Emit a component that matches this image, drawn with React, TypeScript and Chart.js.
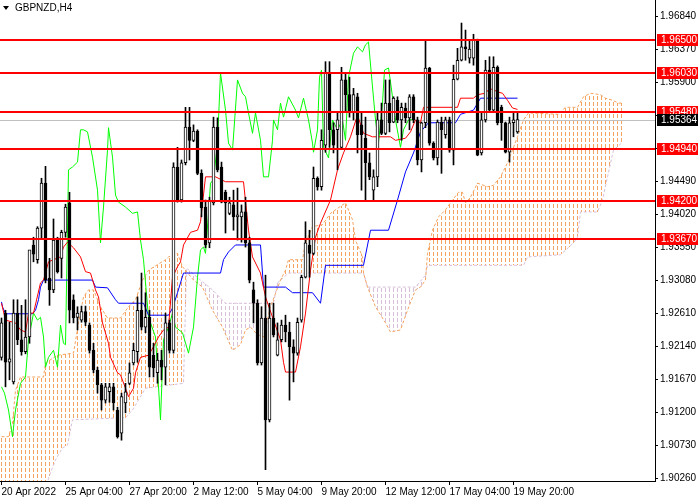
import React, { useEffect, useRef } from 'react';
import { Chart, registerables } from 'chart.js';

Chart.register(...registerables);

const symbolTitle = 'GBPNZD,H4';
const xTickIndex = [0, 16, 32, 48, 64, 80, 96, 112, 128];
const xTickLabels = ['20 Apr 2022', '25 Apr 04:00', '27 Apr 20:00', '2 May 12:00', '5 May 04:00', '9 May 20:00', '12 May 12:00', '17 May 04:00', '19 May 20:00'];
const yTicks = [1.9684, 1.9637, 1.959, 1.9543, 1.9496, 1.9449, 1.9402, 1.9355, 1.9308, 1.9261, 1.9214, 1.9167, 1.912, 1.9073, 1.9026];
const levels = [1.965, 1.9603, 1.9548, 1.9494, 1.942, 1.9367];
const lastPrice = 1.95364;

const opens = [
  1.9198, 1.9261, 1.9191, 1.9163, 1.9261, 1.9223, 1.9206, 1.9227, 1.9358, 1.9337,
  1.9382, 1.9446, 1.9311, 1.9294, 1.9365, 1.9339, 1.9376, 1.9418, 1.9280, 1.9255,
  1.9251, 1.9263, 1.9244, 1.9208, 1.9180, 1.9159, 1.9137, 1.9149, 1.9156, 1.9123,
  1.9090, 1.9133, 1.9161, 1.9190, 1.9206, 1.9265, 1.9241, 1.9255, 1.9201, 1.9176,
  1.9194, 1.9184, 1.9247, 1.9208, 1.9469, 1.9422, 1.9475, 1.9526, 1.9507, 1.9520,
  1.9460, 1.9412, 1.9361, 1.9418, 1.9526, 1.9469, 1.9433, 1.9403, 1.9415, 1.9398,
  1.9398, 1.9405, 1.9361, 1.9294, 1.9275, 1.9190, 1.9254, 1.9109, 1.9254, 1.9201,
  1.9223, 1.9244, 1.9234, 1.9213, 1.9204, 1.9251, 1.9312, 1.9358, 1.9346, 1.9453,
  1.9441, 1.9500, 1.9603, 1.9522, 1.9522, 1.9497, 1.9593, 1.9572, 1.9547, 1.9569,
  1.9529, 1.9510, 1.9475, 1.9436, 1.9455, 1.9536, 1.9517, 1.9560, 1.9533, 1.9564,
  1.9536, 1.9553, 1.9539, 1.9569, 1.9536, 1.9479, 1.9532, 1.9610, 1.9503, 1.9482,
  1.9533, 1.9515, 1.9536, 1.9493, 1.9594, 1.9621, 1.9640, 1.9624, 1.9624, 1.9650,
  1.9489, 1.9536, 1.9607, 1.9550, 1.9611, 1.9554, 1.9532, 1.9490, 1.9532, 1.9519,
];
const highs = [
  1.9254, 1.9265, 1.9248, 1.9280, 1.9280, 1.9272, 1.9280, 1.9344, 1.9369, 1.9384,
  1.9453, 1.9470, 1.9339, 1.9395, 1.9369, 1.9379, 1.9416, 1.9433, 1.9287, 1.9270,
  1.9271, 1.9271, 1.9247, 1.9218, 1.9184, 1.9161, 1.9161, 1.9161, 1.9161, 1.9127,
  1.9147, 1.9161, 1.9190, 1.9218, 1.9284, 1.9318, 1.9290, 1.9265, 1.9218, 1.9204,
  1.9208, 1.9261, 1.9251, 1.9475, 1.9497, 1.9479, 1.9554, 1.9554, 1.9529, 1.9522,
  1.9465, 1.9422, 1.9426, 1.9540, 1.9539, 1.9476, 1.9436, 1.9426, 1.9436, 1.9439,
  1.9415, 1.9426, 1.9369, 1.9305, 1.9280, 1.9270, 1.9315, 1.9275, 1.9275, 1.9247,
  1.9251, 1.9258, 1.9248, 1.9223, 1.9254, 1.9315, 1.9391, 1.9379, 1.9469, 1.9455,
  1.9522, 1.9619, 1.9619, 1.9532, 1.9546, 1.9611, 1.9603, 1.9597, 1.9581, 1.9574,
  1.9546, 1.9540, 1.9489, 1.9465, 1.9546, 1.9560, 1.9593, 1.9593, 1.9569, 1.9569,
  1.9560, 1.9560, 1.9572, 1.9572, 1.9540, 1.9533, 1.9650, 1.9611, 1.9505, 1.9536,
  1.9540, 1.9540, 1.9540, 1.9614, 1.9638, 1.9674, 1.9664, 1.9650, 1.9658, 1.9651,
  1.9546, 1.9621, 1.9626, 1.9626, 1.9613, 1.9557, 1.9533, 1.9540, 1.9547, 1.9546,
];
const lows = [
  1.9194, 1.9156, 1.9166, 1.9160, 1.9216, 1.9201, 1.9203, 1.9218, 1.9334, 1.9332,
  1.9368, 1.9304, 1.9272, 1.9290, 1.9318, 1.9311, 1.9369, 1.9247, 1.9247, 1.9237,
  1.9248, 1.9243, 1.9204, 1.9176, 1.9147, 1.9123, 1.9133, 1.9134, 1.9123, 1.9083,
  1.9080, 1.9119, 1.9159, 1.9187, 1.9191, 1.9237, 1.9233, 1.9170, 1.9170, 1.9161,
  1.9166, 1.9159, 1.9204, 1.9204, 1.9419, 1.9419, 1.9472, 1.9479, 1.9505, 1.9458,
  1.9398, 1.9354, 1.9354, 1.9415, 1.9462, 1.9418, 1.9375, 1.9401, 1.9379, 1.9365,
  1.9362, 1.9355, 1.9304, 1.9247, 1.9187, 1.9187, 1.9038, 1.9106, 1.9227, 1.9200,
  1.9220, 1.9220, 1.9137, 1.9163, 1.9201, 1.9248, 1.9311, 1.9312, 1.9344, 1.9436,
  1.9436, 1.9490, 1.9497, 1.9489, 1.9465, 1.9496, 1.9547, 1.9540, 1.9536, 1.9489,
  1.9436, 1.9422, 1.9451, 1.9422, 1.9441, 1.9515, 1.9515, 1.9519, 1.9532, 1.9532,
  1.9507, 1.9532, 1.9522, 1.9532, 1.9472, 1.9462, 1.9525, 1.9500, 1.9479, 1.9472,
  1.9460, 1.9510, 1.9490, 1.9472, 1.9593, 1.9620, 1.9621, 1.9617, 1.9614, 1.9485,
  1.9486, 1.9533, 1.9547, 1.9547, 1.9529, 1.9507, 1.9489, 1.9476, 1.9512, 1.9517,
];
const closes = [
  1.9247, 1.9191, 1.9196, 1.9261, 1.9223, 1.9206, 1.9227, 1.9351, 1.9345, 1.9382,
  1.9446, 1.9308, 1.9294, 1.9365, 1.9320, 1.9376, 1.9412, 1.9265, 1.9254, 1.9261,
  1.9263, 1.9248, 1.9208, 1.9180, 1.9159, 1.9137, 1.9156, 1.9156, 1.9133, 1.9085,
  1.9142, 1.9149, 1.9176, 1.9208, 1.9265, 1.9241, 1.9255, 1.9184, 1.9183, 1.9194,
  1.9184, 1.9247, 1.9208, 1.9469, 1.9422, 1.9475, 1.9526, 1.9507, 1.9520, 1.9460,
  1.9411, 1.9358, 1.9422, 1.9526, 1.9465, 1.9419, 1.9418, 1.9418, 1.9398, 1.9401,
  1.9405, 1.9361, 1.9308, 1.9275, 1.9190, 1.9254, 1.9109, 1.9254, 1.9230, 1.9223,
  1.9244, 1.9234, 1.9213, 1.9204, 1.9248, 1.9312, 1.9361, 1.9346, 1.9453, 1.9441,
  1.9507, 1.9603, 1.9522, 1.9500, 1.9536, 1.9593, 1.9572, 1.9547, 1.9572, 1.9515,
  1.9515, 1.9475, 1.9455, 1.9455, 1.9536, 1.9517, 1.9560, 1.9532, 1.9567, 1.9536,
  1.9554, 1.9539, 1.9569, 1.9536, 1.9479, 1.9532, 1.9610, 1.9503, 1.9482, 1.9533,
  1.9522, 1.9536, 1.9493, 1.9594, 1.9621, 1.9640, 1.9637, 1.9637, 1.9650, 1.9486,
  1.9536, 1.9607, 1.9550, 1.9611, 1.9532, 1.9532, 1.9490, 1.9532, 1.9536, 1.95364,
];

// Tenkan-sen (red) vertices: bar number / price
const tenkanBar = [0, 1, 3.5, 4.75, 6, 6.75, 8, 9.75, 10.5, 11.75, 13, 14.75, 15.5, 16.5, 18, 19.75, 21, 22.25, 23.5, 24.25, 25.25, 26.75, 27.25, 29, 29.75, 31, 31.75, 33, 33.5, 34.75, 36.75, 38, 39.25, 40.5, 41.75, 42.75, 44, 44.75, 45.5, 47.25, 49, 49.75, 51, 53.5, 56, 60.5, 61.75, 62.75, 64.75, 66, 68, 69.75, 70.5, 71, 73.5, 74.75, 76, 77.25, 78.5, 79.75, 82.25, 84, 85.5, 87.25, 89, 90.5, 92.75, 97.25, 98.5, 101, 102.25, 103.5, 104.75, 105.5, 114, 114.75, 118, 119, 121, 121.75, 122.75, 124, 125.25, 126.5, 127.75, 129];
const tenkanVal = [1.9275, 1.9251, 1.9247, 1.9237, 1.9234, 1.9261, 1.9261, 1.9304, 1.9308, 1.9334, 1.9337, 1.9341, 1.9355, 1.9362, 1.9354, 1.9341, 1.9320, 1.9318, 1.9294, 1.9284, 1.9247, 1.9218, 1.9198, 1.9176, 1.9173, 1.9154, 1.9142, 1.9154, 1.9176, 1.9198, 1.9201, 1.9213, 1.9227, 1.9237, 1.9241, 1.9312, 1.9327, 1.9334, 1.9358, 1.9376, 1.9379, 1.9391, 1.9455, 1.9455, 1.9448, 1.9448, 1.9379, 1.9341, 1.9318, 1.9284, 1.9251, 1.9223, 1.9191, 1.9177, 1.9177, 1.9213, 1.9261, 1.9322, 1.9369, 1.9389, 1.9422, 1.9465, 1.9489, 1.9512, 1.9543, 1.9517, 1.9512, 1.9512, 1.9507, 1.9510, 1.9519, 1.9536, 1.9532, 1.9554, 1.9554, 1.9567, 1.9567, 1.9572, 1.9574, 1.9579, 1.9580, 1.9576, 1.9574, 1.9564, 1.9553, 1.9551];

// Kijun-sen (blue)
const kijunBar = [0, 0.25, 1, 7.75, 8.5, 9.25, 9.75, 10.5, 22.75, 23.5, 26.5, 28.5, 29.25, 35.5, 36.75, 41.75, 42.75, 44, 45.5, 54.75, 55.5, 56.75, 58.5, 64.75, 65.5, 71, 72.75, 77.75, 79.75, 81, 90.5, 92.25, 96.75, 99, 101, 103, 104.75, 106.75, 113.5, 114.75, 118, 119.75, 129];
const kijunVal = [1.9277, 1.9270, 1.9260, 1.9260, 1.9265, 1.9280, 1.9298, 1.9308, 1.9308, 1.9298, 1.9297, 1.9280, 1.9275, 1.9275, 1.9258, 1.9258, 1.9268, 1.9290, 1.9318, 1.9318, 1.9337, 1.9348, 1.9358, 1.9358, 1.9298, 1.9298, 1.9290, 1.9290, 1.9275, 1.9329, 1.9329, 1.9379, 1.9379, 1.9422, 1.9462, 1.9489, 1.9519, 1.9532, 1.9532, 1.9544, 1.9550, 1.9567, 1.9567];

// Chikou span (green)
const chikouBar = [0, 0.75, 1.75, 2.75, 3.5, 4.75, 6, 6.75, 8, 9, 9.75, 10.5, 11, 11.75, 13, 14, 14.75, 15.5, 16, 16.75, 17.75, 19, 19.75, 20.5, 21.5, 22.75, 24, 24.75, 25.5, 26.5, 26.75, 27.75, 28.5, 29.25, 31, 32.75, 34, 34.75, 35.5, 36.75, 38.5, 39.75, 40.5, 41.75, 42.75, 43.5, 45.25, 46.75, 48, 49, 49.75, 50.5, 51, 51.75, 52.25, 53, 54, 54.75, 56, 56.75, 57.75, 59, 60.25, 61, 61.75, 62.75, 63.5, 64.75, 65.5, 66.75, 67.75, 68, 69, 69.75, 70.5, 71.75, 73.5, 74.25, 75.5, 76.75, 77.75, 78, 79, 79.5, 80, 80.5, 81.75, 82.75, 84, 85.25, 86, 86.75, 88, 89, 90.25, 91, 91.75, 92.75, 93.5, 94.25, 95.25, 95.75, 96.75, 97.25, 98.5, 99.75, 100.5, 101.75, 103];
const chikouVal = [1.9156, 1.9147, 1.9123, 1.9085, 1.9123, 1.9161, 1.9170, 1.9223, 1.9261, 1.9251, 1.9255, 1.9227, 1.9184, 1.9198, 1.9208, 1.9184, 1.9244, 1.9218, 1.9216, 1.9465, 1.9469, 1.9476, 1.9522, 1.9522, 1.9519, 1.9483, 1.9436, 1.9361, 1.9412, 1.9493, 1.9525, 1.9483, 1.9429, 1.9419, 1.9412, 1.9403, 1.9405, 1.9365, 1.9337, 1.9255, 1.9227, 1.9109, 1.9223, 1.9241, 1.9261, 1.9241, 1.9233, 1.9204, 1.9241, 1.9312, 1.9351, 1.9355, 1.9346, 1.9403, 1.9446, 1.9451, 1.9503, 1.9603, 1.9550, 1.9503, 1.9493, 1.9593, 1.9574, 1.9569, 1.9546, 1.9517, 1.9546, 1.9507, 1.9455, 1.9455, 1.9507, 1.9536, 1.9522, 1.9560, 1.9540, 1.9569, 1.9550, 1.9539, 1.9567, 1.9536, 1.9503, 1.9490, 1.9522, 1.9597, 1.9607, 1.9497, 1.9482, 1.9536, 1.9522, 1.9536, 1.9507, 1.9597, 1.9631, 1.9640, 1.9633, 1.9643, 1.9647, 1.9583, 1.9536, 1.9503, 1.9560, 1.9607, 1.9610, 1.9590, 1.9536, 1.9497, 1.9522, 1.9536, 1.95364];

// Senkou span A (sandy brown edge)
const spanABar = [0, 1.75, 2.75, 3.5, 4.75, 10.5, 11, 14, 18, 19.25, 20.5, 21.75, 23, 24.75, 26.5, 29.75, 31.75, 33.5, 35.25, 36.75, 41, 41.75, 44, 45.25, 46, 48, 50.25, 52.75, 55.25, 57.75, 59.75, 61, 62.25, 64, 65.5, 67.25, 69.75, 71, 71.75, 75.25, 76, 77.75, 80.25, 82.25, 86, 87.75, 88.5, 90.25, 90.5, 91.5, 93.5, 96, 97.25, 99.75, 101.5, 103.5, 104.75, 106, 106.5, 107.75, 109.25, 111, 112.75, 114.25, 115.25, 116, 117.25, 119, 121.5, 123, 124.75, 126.5, 127.75, 129, 130.5, 131.75, 139.25, 140.25, 141, 144, 145.5, 147.25, 149.75, 151, 152.75, 154.25, 155];
const spanAVal = [1.9085, 1.9085, 1.9104, 1.9151, 1.9170, 1.9170, 1.9190, 1.9201, 1.9204, 1.9247, 1.9284, 1.9294, 1.9294, 1.9270, 1.9254, 1.9254, 1.9270, 1.9280, 1.9308, 1.9322, 1.9337, 1.9341, 1.9346, 1.9327, 1.9322, 1.9308, 1.9298, 1.9265, 1.9241, 1.9208, 1.9216, 1.9237, 1.9241, 1.9230, 1.9227, 1.9270, 1.9308, 1.9322, 1.9337, 1.9337, 1.9361, 1.9384, 1.9387, 1.9403, 1.9418, 1.9394, 1.9365, 1.9341, 1.9318, 1.9298, 1.9270, 1.9247, 1.9234, 1.9237, 1.9265, 1.9294, 1.9298, 1.9308, 1.9346, 1.9379, 1.9398, 1.9408, 1.9422, 1.9433, 1.9433, 1.9418, 1.9426, 1.9446, 1.9441, 1.9443, 1.9455, 1.9475, 1.9493, 1.9512, 1.9536, 1.9546, 1.9544, 1.9550, 1.9554, 1.9554, 1.9569, 1.9574, 1.9572, 1.9567, 1.9564, 1.9560, 1.9560];

// Senkou span B (thistle edge)
const spanBBar = [0, 9.75, 11.75, 13.5, 15.25, 16.5, 17.75, 31, 32.75, 36, 45.5, 46.25, 49.75, 52.75, 56, 68, 69, 71.75, 90.5, 91.5, 103.5, 106, 106.5, 130.5, 131.5, 139.75, 143, 144, 144.75, 149, 150.25, 151.5, 153, 155];
const spanBVal = [1.8966, 1.8966, 1.9026, 1.9052, 1.9069, 1.9073, 1.9109, 1.9112, 1.9123, 1.9154, 1.9161, 1.9325, 1.9308, 1.9294, 1.9275, 1.9275, 1.9304, 1.9318, 1.9318, 1.9298, 1.9298, 1.9315, 1.9329, 1.9329, 1.9341, 1.9344, 1.9361, 1.9369, 1.9405, 1.9405, 1.9422, 1.9455, 1.9493, 1.9503];

const FONT_FAMILY = '"Liberation Sans", Arial, sans-serif';
const Y_MIN = 1.90219;
const Y_MAX = 1.97068;
const CLOUD_UP = '#F4A460';
const CLOUD_DOWN = '#D8BFD8';
const SPAN_A_INDEX = 5;
const SPAN_B_INDEX = 6;

const toPts = (bars: number[], vals: number[]) => bars.map((b, i) => ({ x: b, y: vals[i] }));

// Hatches the Kumo between the two drawn span lines (uses the line points Chart.js placed)
const cloudPlugin = {
  id: 'kumoHatch',
  beforeDatasetsDraw(chart: any) {
    const { ctx, chartArea } = chart;
    const a = chart.getDatasetMeta(SPAN_A_INDEX).data.map((p: any) => ({ x: p.x, y: p.y }));
    const b = chart.getDatasetMeta(SPAN_B_INDEX).data.map((p: any) => ({ x: p.x, y: p.y }));
    if (!a.length || !b.length) return;
    const yAt = (pts: any[], x: number) => {
      if (x < pts[0].x || x > pts[pts.length - 1].x) return null;
      for (let k = 1; k < pts.length; k++) {
        if (x <= pts[k].x) {
          const p0 = pts[k - 1];
          const p1 = pts[k];
          const t = p1.x === p0.x ? 1 : (x - p0.x) / (p1.x - p0.x);
          return p0.y + t * (p1.y - p0.y);
        }
      }
      return null;
    };
    ctx.save();
    ctx.beginPath();
    ctx.rect(chartArea.left, chartArea.top, chartArea.right - chartArea.left, chartArea.bottom - chartArea.top);
    ctx.clip();
    for (let px = Math.floor(chartArea.left) + 1; px < chartArea.right; px += 4) {
      const ya = yAt(a, px + 0.5);
      const yb = yAt(b, px + 0.5);
      if (ya === null || yb === null) continue;
      const top = Math.min(ya, yb);
      const bot = Math.max(ya, yb);
      ctx.fillStyle = ya <= yb ? CLOUD_UP : CLOUD_DOWN;
      for (let y = Math.floor(top / 6) * 6; y < bot; y += 6) {
        const s = Math.max(y, Math.round(top));
        const e = Math.min(y + 4, Math.round(bot));
        if (e > s) ctx.fillRect(px, s, 1, e - s);
      }
    }
    ctx.restore();
  },
};

const overlayPlugin = {
  id: 'mtOverlay',
  beforeDatasetsDraw(chart: any) {
    const { ctx, chartArea, scales } = chart;
    const y = Math.round(scales.y.getPixelForValue(lastPrice)) + 0.5;
    ctx.save();
    ctx.strokeStyle = '#C0C0C0';
    ctx.lineWidth = 1;
    ctx.beginPath();
    ctx.moveTo(chartArea.left, y);
    ctx.lineTo(chartArea.right, y);
    ctx.stroke();
    ctx.restore();
  },
  afterDatasetsDraw(chart: any) {
    const { ctx, chartArea, scales } = chart;
    ctx.save();
    ctx.fillStyle = '#FF0000';
    levels.forEach((lv) => {
      const y = Math.round(scales.y.getPixelForValue(lv));
      ctx.fillRect(chartArea.left, y - 1, chartArea.right - chartArea.left, 2);
    });
    ctx.restore();
  },
  afterDraw(chart: any) {
    const { ctx, chartArea, scales } = chart;
    ctx.save();
    ctx.font = '10px ' + FONT_FAMILY;
    ctx.textBaseline = 'middle';
    ctx.textAlign = 'left';
    const boxX = chartArea.right + 2;
    const drawBox = (v: number, bg: string) => {
      const y = Math.round(scales.y.getPixelForValue(v));
      ctx.fillStyle = bg;
      ctx.fillRect(boxX, y - 6, 41, 12);
      ctx.fillStyle = '#FFFFFF';
      ctx.fillText(v.toFixed(5), boxX + 4, y + 0.5);
    };
    levels.forEach((lv) => drawBox(lv, '#FF0000'));
    drawBox(lastPrice, '#000000');
    ctx.fillStyle = '#000000';
    ctx.beginPath();
    ctx.moveTo(3, 6);
    ctx.lineTo(9, 6);
    ctx.lineTo(6, 10);
    ctx.closePath();
    ctx.fill();
    ctx.fillText(symbolTitle, 15, 8);
    ctx.restore();
  },
};

export default function App() {
  const ref = useRef<HTMLCanvasElement | null>(null);

  useEffect(() => {
    const canvas = ref.current;
    if (!canvas) return;
    const ctx = canvas.getContext('2d') as CanvasRenderingContext2D;

    const idx = opens.map((_, i) => i);
    const bodyData = idx.map((i) => ({ x: i, y: [Math.min(opens[i], closes[i]), Math.max(opens[i], closes[i])] }));
    const wickData = idx.map((i) => ({ x: i, y: [lows[i], highs[i]] }));
    const bodyColors = idx.map((i) => (closes[i] >= opens[i] ? '#FFFFFF' : '#000000'));

    const lineBase = { type: 'line', borderWidth: 1, pointRadius: 0, pointHoverRadius: 0, tension: 0, fill: false };

    const chart = new Chart(ctx, {
      type: 'bar',
      data: {
        datasets: [
          {
            label: 'body',
            data: bodyData,
            backgroundColor: bodyColors,
            borderColor: '#000000',
            borderWidth: 1,
            borderSkipped: false,
            barThickness: 3,
            grouped: false,
            order: 0,
          } as any,
          {
            label: 'wick',
            data: wickData,
            backgroundColor: '#000000',
            borderWidth: 0,
            barThickness: 1,
            grouped: false,
            order: 1,
          } as any,
          { ...lineBase, label: 'Tenkan', data: toPts(tenkanBar, tenkanVal), borderColor: '#FF0000', order: 2 } as any,
          { ...lineBase, label: 'Kijun', data: toPts(kijunBar, kijunVal), borderColor: '#0000FF', order: 3 } as any,
          { ...lineBase, label: 'Chikou', data: toPts(chikouBar, chikouVal), borderColor: '#00FF00', order: 4 } as any,
          {
            ...lineBase,
            label: 'SpanA',
            data: toPts(spanABar, spanAVal),
            borderColor: CLOUD_UP,
            borderDash: [3, 2],
            order: 5,
          } as any,
          {
            ...lineBase,
            label: 'SpanB',
            data: toPts(spanBBar, spanBVal),
            borderColor: CLOUD_DOWN,
            borderDash: [3, 2],
            order: 6,
          } as any,
        ],
      },
      options: {
        responsive: false,
        animation: false,
        events: [],
        layout: { padding: 0, autoPadding: false },
        plugins: {
          legend: { display: false },
          tooltip: { enabled: false },
          title: { display: false },
        },
        scales: {
          x: {
            type: 'linear',
            offset: false,
            min: -0.375,
            max: 163.375,
            afterBuildTicks: (s: any) => {
              s.ticks = xTickIndex.map((v) => ({ value: v }));
            },
            afterFit: (s: any) => {
              s.height = 19;
              s.paddingLeft = 0;
              s.paddingRight = 0;
            },
            ticks: {
              autoSkip: false,
              maxRotation: 0,
              minRotation: 0,
              align: 'start',
              padding: 1,
              color: '#000000',
              font: { family: FONT_FAMILY, size: 10 },
              callback: (v: any) => {
                const k = xTickIndex.indexOf(Number(v));
                return k >= 0 ? xTickLabels[k] : '';
              },
            },
            grid: { offset: false, drawOnChartArea: false, drawTicks: true, tickLength: 4, color: '#000000' },
            border: { display: true, color: '#000000', width: 1 },
          },
          y: {
            type: 'linear',
            position: 'right',
            min: Y_MIN,
            max: Y_MAX,
            afterBuildTicks: (s: any) => {
              s.ticks = yTicks.map((v) => ({ value: v }));
            },
            afterFit: (s: any) => {
              s.width = 45;
              s.paddingTop = 0;
              s.paddingBottom = 0;
            },
            ticks: {
              autoSkip: false,
              padding: 2,
              color: '#000000',
              font: { family: FONT_FAMILY, size: 10 },
              callback: (v: any) => Number(v).toFixed(5),
            },
            grid: { drawOnChartArea: false, drawTicks: true, tickLength: 3, color: '#000000' },
            border: { display: true, color: '#000000', width: 1 },
          },
        },
      } as any,
      plugins: [cloudPlugin, overlayPlugin],
    });

    return () => {
      chart.destroy();
    };
  }, []);

  return (
    <div style={{ position: 'absolute', left: 0, top: 0, width: 700, height: 500, background: '#FFFFFF' }}>
      <canvas ref={ref} width={700} height={500} style={{ display: 'block' }} />
    </div>
  );
}
